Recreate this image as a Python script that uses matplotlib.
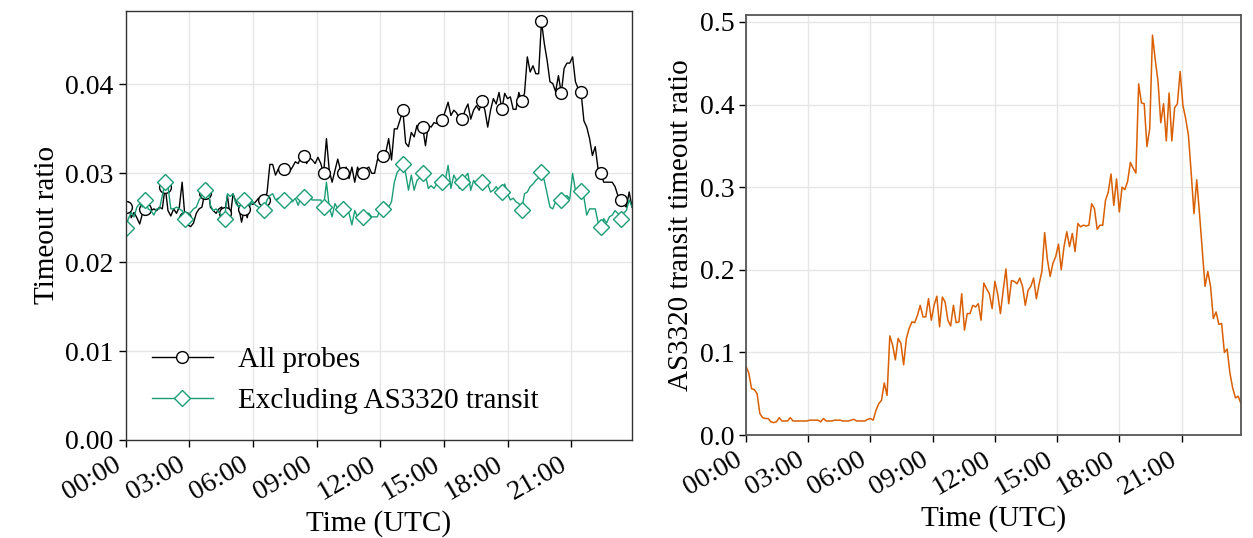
import matplotlib
matplotlib.use("Agg")
import matplotlib.pyplot as plt
import matplotlib.dates as mdates
import pandas as pd

plt.rcParams['font.family'] = ['Liberation Serif', 'DejaVu Serif']
plt.rcParams['font.size'] = 20

# 8-minute bins over one day
times = pd.date_range("2020-01-01 00:00", periods=180, freq="8min")

all_probes = [
    0.0262, 0.0268, 0.0250, 0.0256, 0.0250, 0.0243, 0.0255, 0.0260, 0.0262, 0.0258,
    0.0260, 0.0258, 0.0262, 0.0260, 0.0285, 0.0258, 0.0252, 0.0260, 0.0255, 0.0262,
    0.0290, 0.0250, 0.0242, 0.0240, 0.0244, 0.0255, 0.0260, 0.0262, 0.0278, 0.0287,
    0.0262, 0.0258, 0.0255, 0.0260, 0.0262, 0.0255, 0.0275, 0.0250, 0.0277, 0.0268,
    0.0262, 0.0245, 0.0260, 0.0250, 0.0266, 0.0265, 0.0268, 0.0272, 0.0270, 0.0270,
    0.0278, 0.0310, 0.0310, 0.0298, 0.0305, 0.0302, 0.0305, 0.0308, 0.0302, 0.0307,
    0.0313, 0.0311, 0.0318, 0.0320, 0.0311, 0.0318, 0.0315, 0.0311, 0.0318, 0.0311,
    0.0300, 0.0339, 0.0303, 0.0290, 0.0303, 0.0316, 0.0303, 0.0300, 0.0307, 0.0294,
    0.0307, 0.0290, 0.0307, 0.0298, 0.0300, 0.0305, 0.0307, 0.0300, 0.0300, 0.0315,
    0.0320, 0.0320, 0.0324, 0.0339, 0.0315, 0.0350, 0.0350, 0.0360, 0.0371, 0.0334,
    0.0330, 0.0346, 0.0341, 0.0354, 0.0350, 0.0352, 0.0331, 0.0354, 0.0352, 0.0357,
    0.0356, 0.0358, 0.0360, 0.0370, 0.0380, 0.0365, 0.0371, 0.0368, 0.0361, 0.0361,
    0.0371, 0.0378, 0.0361, 0.0371, 0.0376, 0.0371, 0.0381, 0.0371, 0.0352, 0.0371,
    0.0384, 0.0378, 0.0391, 0.0372, 0.0390, 0.0384, 0.0386, 0.0372, 0.0372, 0.0391,
    0.0381, 0.0390, 0.0431, 0.0414, 0.0421, 0.0412, 0.0412, 0.0471, 0.0446, 0.0427,
    0.0403, 0.0401, 0.0392, 0.0410, 0.0390, 0.0418, 0.0424, 0.0424, 0.0431, 0.0403,
    0.0395, 0.0391, 0.0359, 0.0352, 0.0339, 0.0320, 0.0330, 0.0305, 0.0300, 0.0290,
    0.0290, 0.0290, 0.0290, 0.0285, 0.0275, 0.0270, 0.0265, 0.0262, 0.0279, 0.0262,
]

excluding_transit = [
    0.0239, 0.0249, 0.0256, 0.0251, 0.0262, 0.0266, 0.0262, 0.0270, 0.0260, 0.0258,
    0.0253, 0.0260, 0.0260, 0.0275, 0.0290, 0.0285, 0.0260, 0.0260, 0.0262, 0.0260,
    0.0258, 0.0249, 0.0253, 0.0256, 0.0260, 0.0262, 0.0270, 0.0275, 0.0281, 0.0288,
    0.0264, 0.0258, 0.0260, 0.0256, 0.0253, 0.0249, 0.0277, 0.0274, 0.0277, 0.0266,
    0.0262, 0.0266, 0.0270, 0.0268, 0.0264, 0.0268, 0.0264, 0.0262, 0.0260, 0.0259,
    0.0270, 0.0275, 0.0277, 0.0270, 0.0272, 0.0270, 0.0270, 0.0266, 0.0272, 0.0268,
    0.0272, 0.0264, 0.0273, 0.0273, 0.0277, 0.0272, 0.0270, 0.0270, 0.0270, 0.0270,
    0.0262, 0.0290, 0.0262, 0.0251, 0.0266, 0.0260, 0.0260, 0.0260, 0.0258, 0.0255,
    0.0242, 0.0258, 0.0251, 0.0251, 0.0251, 0.0255, 0.0255, 0.0251, 0.0251, 0.0251,
    0.0260, 0.0260, 0.0266, 0.0262, 0.0268, 0.0290, 0.0301, 0.0305, 0.0310, 0.0300,
    0.0281, 0.0298, 0.0281, 0.0292, 0.0295, 0.0300, 0.0298, 0.0283, 0.0286, 0.0283,
    0.0288, 0.0289, 0.0290, 0.0292, 0.0309, 0.0283, 0.0298, 0.0292, 0.0283, 0.0290,
    0.0296, 0.0300, 0.0281, 0.0292, 0.0287, 0.0290, 0.0290, 0.0285, 0.0288, 0.0279,
    0.0281, 0.0285, 0.0280, 0.0279, 0.0288, 0.0277, 0.0270, 0.0272, 0.0268, 0.0266,
    0.0259, 0.0277, 0.0279, 0.0285, 0.0288, 0.0292, 0.0295, 0.0301, 0.0292, 0.0277,
    0.0262, 0.0260, 0.0268, 0.0270, 0.0270, 0.0273, 0.0275, 0.0271, 0.0300, 0.0281,
    0.0278, 0.0280, 0.0273, 0.0253, 0.0260, 0.0260, 0.0260, 0.0245, 0.0240, 0.0249,
    0.0244, 0.0251, 0.0253, 0.0258, 0.0255, 0.0249, 0.0255, 0.0258, 0.0270, 0.0262,
]

transit_ratio = [
    0.083, 0.075, 0.056, 0.055, 0.050, 0.026, 0.021, 0.020, 0.020, 0.016,
    0.015, 0.016, 0.021, 0.017, 0.017, 0.017, 0.021, 0.017, 0.017, 0.017,
    0.017, 0.017, 0.017, 0.018, 0.018, 0.018, 0.018, 0.016, 0.020, 0.017,
    0.017, 0.017, 0.018, 0.018, 0.018, 0.017, 0.017, 0.017, 0.018, 0.019,
    0.017, 0.017, 0.017, 0.017, 0.019, 0.020, 0.018, 0.030, 0.038, 0.042,
    0.063, 0.048, 0.120, 0.109, 0.091, 0.117, 0.111, 0.085, 0.117, 0.129,
    0.137, 0.136, 0.145, 0.157, 0.143, 0.143, 0.165, 0.139, 0.157, 0.168,
    0.131, 0.167, 0.161, 0.139, 0.132, 0.157, 0.136, 0.137, 0.171, 0.127,
    0.147, 0.147, 0.157, 0.155, 0.159, 0.139, 0.184, 0.177, 0.171, 0.153,
    0.186, 0.171, 0.147, 0.175, 0.201, 0.159, 0.187, 0.186, 0.183, 0.190,
    0.180, 0.157, 0.175, 0.180, 0.190, 0.165, 0.183, 0.198, 0.245, 0.212,
    0.192, 0.208, 0.216, 0.231, 0.200, 0.228, 0.246, 0.228, 0.244, 0.222,
    0.256, 0.252, 0.254, 0.253, 0.254, 0.280, 0.274, 0.249, 0.254, 0.254,
    0.284, 0.294, 0.316, 0.278, 0.310, 0.270, 0.300, 0.297, 0.307, 0.330,
    0.323, 0.317, 0.425, 0.402, 0.401, 0.349, 0.371, 0.484, 0.454, 0.428,
    0.378, 0.401, 0.356, 0.414, 0.356, 0.396, 0.401, 0.440, 0.399, 0.383,
    0.363, 0.317, 0.268, 0.309, 0.268, 0.224, 0.180, 0.198, 0.180, 0.141,
    0.149, 0.134, 0.135, 0.100, 0.104, 0.075, 0.057, 0.045, 0.047, 0.038,
]

fig = plt.figure(figsize=(12.53, 5.38), dpi=100)
ax1 = fig.add_axes([0.1002, 0.1822, 0.4042, 0.798])
ax2 = fig.add_axes([0.5954, 0.1914, 0.3950, 0.7801])

ax1.plot(times, all_probes, color='black', lw=1.0, marker='o', markevery=7,
         markersize=8.5, markerfacecolor='white', markeredgewidth=1.0, label='All probes')
ax1.plot(times, excluding_transit, color='#1b9e77', lw=1.0, marker='D', markevery=7,
         markersize=8.5, markerfacecolor='white', markeredgewidth=1.0,
         label='Excluding AS3320 transit')
ax1.set_ylim(0, 0.0483)
ax1.set_yticks([0.0, 0.01, 0.02, 0.03, 0.04])
ax1.yaxis.set_major_formatter(matplotlib.ticker.FormatStrFormatter('%.2f'))
ax1.set_ylabel('Timeout ratio', fontsize=21)
ax1.legend(loc='lower left', frameon=False, fontsize=21,
           handlelength=2.1, handletextpad=0.85)

ax2.plot(times, transit_ratio, color='#d95f02', lw=1.1)
ax2.set_ylim(0, 0.508)
ax2.set_yticks([0.0, 0.1, 0.2, 0.3, 0.4, 0.5])
ax2.yaxis.set_major_formatter(matplotlib.ticker.FormatStrFormatter('%.1f'))
ax2.set_ylabel('AS3320 transit timeout ratio', fontsize=21)

for ax in (ax1, ax2):
    ax.set_xlim(times[0], times[-1])
    ax.xaxis.set_major_locator(mdates.HourLocator(byhour=range(0, 24, 3)))
    ax.xaxis.set_major_formatter(mdates.DateFormatter('%H:%M'))
    ax.grid(True, color='#e6e6e6', lw=1.0)
    ax.set_axisbelow(True)
    ax.set_xlabel('Time (UTC)', fontsize=21)
    ax.tick_params(direction='out', length=5, width=1)
    for lbl in ax.get_xticklabels():
        lbl.set_rotation(30)
        lbl.set_ha('right')
    for sp in ax.spines.values():
        sp.set_color('#333333')
        sp.set_linewidth(1.0)

for sp in ax2.spines.values():
    sp.set_color('#555555')
    sp.set_linewidth(1.3)

fig.savefig('out.png', dpi=100)
